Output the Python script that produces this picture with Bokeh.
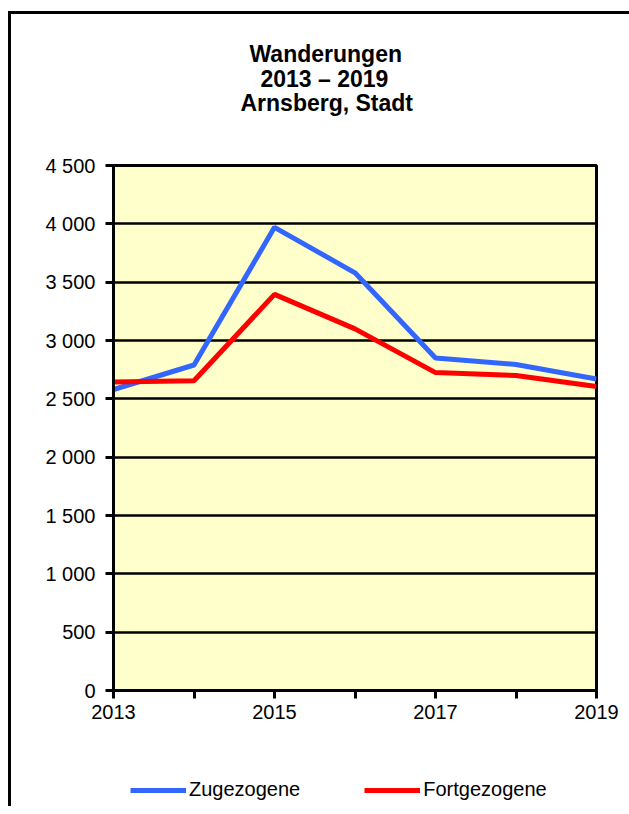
from bokeh.plotting import figure
from bokeh.models import (FixedTicker, Title, Legend, LegendItem, Range1d)
from bokeh.layouts import column
from bokeh.embed import file_html
from bokeh.resources import INLINE

# ---- data ----
years = [2013, 2014, 2015, 2016, 2017, 2018, 2019]
zugezogene = [2580, 2790, 3970, 3580, 2850, 2795, 2670]
fortgezogene = [2645, 2655, 3395, 3100, 2725, 2700, 2605]
x_labels = ["2013", "", "2015", "", "2017", "", "2019"]
y_ticks = [0, 500, 1000, 1500, 2000, 2500, 3000, 3500, 4000, 4500]
y_labels = ["0", "500", "1 000", "1 500", "2 000", "2 500", "3 000", "3 500", "4 000", "4 500"]
title_lines = ["Wanderungen", "2013 \u2013 2019", "Arnsberg, Stadt"]
series_names = ["Zugezogene", "Fortgezogene"]

FONT = "Liberation Sans"
BLUE = "#3366FF"
RED = "#FF0000"
COLORS = [BLUE, RED]
SERIES = [zugezogene, fortgezogene]

p = figure(output_backend="svg", toolbar_location=None,
           frame_width=483, frame_height=525,
           min_border_left=102, min_border_right=33,
           min_border_top=151, min_border_bottom=60,
           x_range=Range1d(years[0], years[-1]),
           y_range=Range1d(y_ticks[0], y_ticks[-1]))

p.background_fill_color = "#FFFFCC"
p.border_fill_color = "white"
p.outline_line_color = "black"
p.outline_line_width = 3

# axes
p.xaxis.ticker = FixedTicker(ticks=years)
p.xaxis.major_label_overrides = {y: l for y, l in zip(years, x_labels)}
p.yaxis.ticker = FixedTicker(ticks=y_ticks)
p.yaxis.major_label_overrides = {t: l for t, l in zip(y_ticks, y_labels)}
for ax in (p.xaxis, p.yaxis):
    ax.axis_line_color = "black"
    ax.axis_line_width = 3
    ax.major_tick_line_color = "black"
    ax.major_tick_line_width = 3
    ax.major_tick_out = 8
    ax.major_tick_in = 0
    ax.minor_tick_line_color = None
    ax.major_label_text_font = FONT
    ax.major_label_text_font_size = "20px"
    ax.major_label_text_color = "black"
p.xaxis.major_label_standoff = 6
p.yaxis.major_label_standoff = 10

p.xgrid.grid_line_color = None
p.ygrid.ticker = FixedTicker(ticks=y_ticks)
p.ygrid.grid_line_color = "black"
p.ygrid.grid_line_width = 2.5

for vals, c in zip(SERIES, COLORS):
    p.line(years, vals, line_color=c, line_width=5)

# spacer between frame and title block
p.add_layout(Title(text=" ", text_font_size="1px", standoff=47), "above")

# title: three stacked titles (first added sits closest to the frame)
title_offsets = [136, 147, 127]
title_standoffs = [0, -6, -1]
for txt, off, so in reversed(list(zip(title_lines, title_offsets, title_standoffs))):
    p.add_layout(Title(text=txt, align="left", offset=off, standoff=so,
                       text_font=FONT, text_font_style="bold",
                       text_font_size="23px", text_color="black"), "above")

# legend strip (separate small figure under the chart; its lines fall outside its ranges)
pl = figure(output_backend="svg", toolbar_location=None,
            frame_width=618, frame_height=56,
            min_border=0, x_range=Range1d(0, 1), y_range=Range1d(0, 1))
pl.axis.visible = False
pl.grid.visible = False
pl.outline_line_color = None
pl.background_fill_color = "white"
pl.border_fill_color = "white"
leg_renderers = [pl.line(years, vals, line_color=c, line_width=5)
                 for vals, c in zip(SERIES, COLORS)]

lg = Legend(items=[LegendItem(label=n, renderers=[r]) for n, r in zip(series_names, leg_renderers)],
            location=(119, 5), orientation="horizontal",
            padding=0, margin=0, spacing=64,
            glyph_width=56, glyph_height=20, label_height=20,
            label_standoff=3,
            label_text_font=FONT, label_text_font_size="20px",
            label_text_color="black",
            border_line_color=None, background_fill_alpha=0)
pl.add_layout(lg, "center")

layout = column(p, pl, spacing=0)
layout.styles = {"border-left": "3px solid black", "border-top": "3px solid black",
                 "margin-top": "11px", "margin-left": "8px"}

open("out.html", "w").write(file_html(layout, INLINE))
